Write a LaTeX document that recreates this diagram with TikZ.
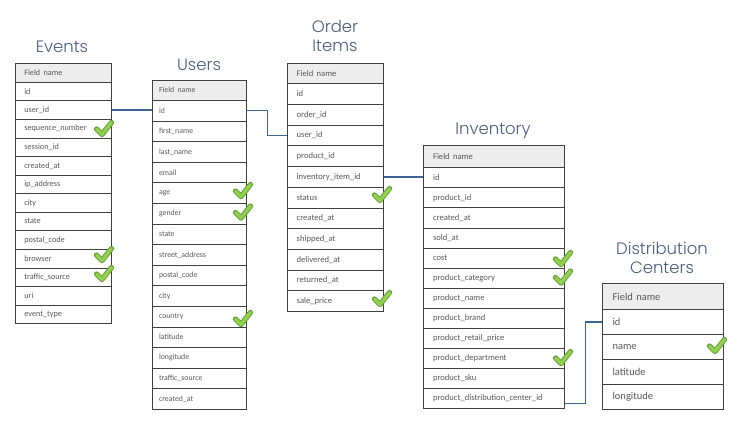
\documentclass[tikz,border=0pt]{standalone}
\usepackage{fontspec}
\setmainfont{Carlito}
\IfFontExistsTF{Poppins Light}{\newfontfamily\titlefont{Poppins Light}}{\newfontfamily\titlefont{Poppins}}
\definecolor{txtgray}{HTML}{595959}
\definecolor{bordergray}{HTML}{404040}
\definecolor{hdrgray}{HTML}{EDEDED}
\definecolor{titleblue}{HTML}{4A5E80}
\definecolor{connblue}{HTML}{3E6494}
\definecolor{tickfill}{HTML}{92D050}
\definecolor{tickline}{HTML}{5E9B32}
\tikzset{
  fld/.style={draw=bordergray, line width=0.7pt, fill=white, text=txtgray,
    anchor=north west, inner ysep=0pt, align=left},
  hdr/.style={fld, fill=hdrgray},
  ttl/.style={text=titleblue, font=\titlefont\fontsize{16.5}{19}\selectfont, align=center, inner sep=0pt},
  conn/.style={draw=connblue, line width=1.4pt},
  tickmark/.pic={
    \draw[tickline, line width=5.2pt, line join=round, line cap=round] (-7.5,0) -- (-2,5.5) -- (7.5,-6.5);
    \draw[tickfill, line width=3.4pt, line join=round, line cap=round] (-7.5,0) -- (-2,5.5) -- (7.5,-6.5);
  }
}
% #1 prefix, #2 x, #3 top, #4 width, #5 header height, #6 row height, #7 font size, #8 text indent, #9 list
\newcommand{\mytable}[9]{%
  \node[hdr, minimum width=#4pt, minimum height=#5pt, inner xsep=#8pt, text width=#4pt-2*#8pt] (#10) at (#2,#3)
    {\fontsize{#7}{#7}\selectfont Field name};
  \foreach \t [count=\i] in {#9} {
    \node[fld, minimum width=#4pt, minimum height=#6pt, inner xsep=#8pt, text width=#4pt-2*#8pt] (#1\i) at (#2,#3+#5+\i*#6-#6)
      {\fontsize{#7}{#7}\selectfont\t};
  }
}
\begin{document}
\begin{tikzpicture}[x=1pt,y=-1pt]
\useasboundingbox (0,0) rectangle (743,436);
\fill[white] (0,0) rectangle (743,436);
% titles
\node[ttl] (tEv) at (62,47) {Events};
\node[ttl] (tUs) at (199,65) {Users};
\node[ttl] (tOi) at (335,35.5) {Order\\Items};
\node[ttl] (tIn) at (493,131) {Inventory};
\node[ttl] (tDc) at (662,257.5) {Distribution\\Centers};
% tables
\mytable{ev}{15}{63.3}{96}{18.5}{18.57}{8.2}{9}{id,user\_id,sequence\_number,session\_id,created\_at,ip\_address,city,state,postal\_code,browser,traffic\_source,uri,event\_type}
\mytable{us}{151.7}{79.7}{94}{20.3}{20.6}{7.8}{7}{id,first\_name,last\_name,email,age,gender,state,street\_address,postal\_code,city,country,latitude,longitude,traffic\_source,created\_at}
\mytable{oi}{287.3}{63.3}{96}{20}{20.7}{8.6}{9}{id,order\_id,user\_id,product\_id,inventory\_item\_id,status,created\_at,shipped\_at,delivered\_at,returned\_at,sale\_price}
\mytable{in}{423.3}{145}{140.7}{22.3}{20.08}{8.6}{9.4}{id,product\_id,created\_at,sold\_at,cost,product\_category,product\_name,product\_brand,product\_retail\_price,product\_department,product\_sku,product\_distribution\_center\_id}
\mytable{dc}{601.7}{283.3}{121}{25.7}{25}{10.5}{10.5}{id,name,latitude,longitude}
% connectors
\draw[conn] (ev2.east) -- (ev2.east -| us1.west);
\draw[conn] (us1.east) -- ++(21,0) |- (oi3.west);
\draw[conn] (oi5.east) -- (oi5.east -| in1.west);
\draw[conn] ([yshift=-5pt]in12.east) -- ++(20.5,0) |- (dc1.west);
% ticks
\pic at (104,129) {tickmark};
\pic at (104,255) {tickmark};
\pic at (104,274) {tickmark};
\pic at (243,191) {tickmark};
\pic at (243,212.5) {tickmark};
\pic at (243,319) {tickmark};
\pic at (382,195) {tickmark};
\pic at (382,299) {tickmark};
\pic at (563,259) {tickmark};
\pic at (563,277.5) {tickmark};
\pic at (563,358) {tickmark};
\pic at (717,346) {tickmark};
\end{tikzpicture}
\end{document}
